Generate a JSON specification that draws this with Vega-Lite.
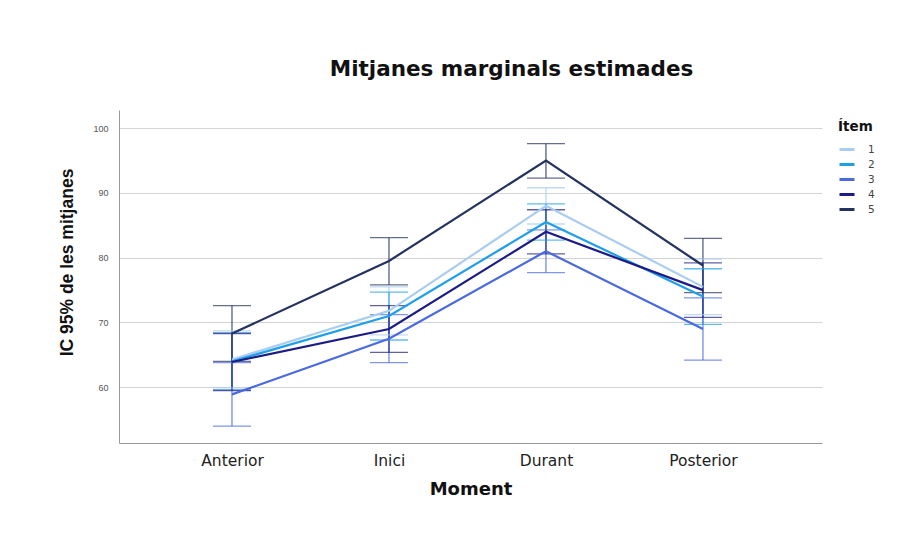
{
  "$schema": "https://vega.github.io/schema/vega-lite/v6.json",
  "autosize": {"type": "none"},
  "width": 703,
  "height": 333,
  "padding": {"left": 119, "top": 110, "right": 95, "bottom": 93},
  "background": "white",
  "config": {
    "font": "DejaVu Sans",
    "view": {"stroke": null},
    "axis": {"gridColor": "#d4d4d4", "domainColor": "#9a9a9a", "ticks": false}
  },
  "title": {
    "text": "Mitjanes marginals estimades",
    "fontSize": 21.5,
    "fontWeight": "bold",
    "font": "DejaVu Sans",
    "color": "#111111",
    "anchor": "middle",
    "dx": 41,
    "offset": 30
  },
  "data": {
    "values": [
      {"item": "1", "moment": "Anterior", "mean": 64.3, "lo": 59.9, "hi": 68.7},
      {"item": "1", "moment": "Inici", "mean": 71.8, "lo": 68.1, "hi": 75.5},
      {"item": "1", "moment": "Durant", "mean": 88.0, "lo": 85.2, "hi": 90.8},
      {"item": "1", "moment": "Posterior", "mean": 75.5, "lo": 71.2, "hi": 79.8},
      {"item": "2", "moment": "Anterior", "mean": 64.0, "lo": 59.6, "hi": 68.4},
      {"item": "2", "moment": "Inici", "mean": 71.0, "lo": 67.3, "hi": 74.7},
      {"item": "2", "moment": "Durant", "mean": 85.5, "lo": 82.7, "hi": 88.3},
      {"item": "2", "moment": "Posterior", "mean": 74.0, "lo": 69.7, "hi": 78.3},
      {"item": "3", "moment": "Anterior", "mean": 58.9, "lo": 54.0, "hi": 63.8},
      {"item": "3", "moment": "Inici", "mean": 67.5, "lo": 63.8, "hi": 71.2},
      {"item": "3", "moment": "Durant", "mean": 81.0, "lo": 77.7, "hi": 84.3},
      {"item": "3", "moment": "Posterior", "mean": 69.0, "lo": 64.2, "hi": 73.8},
      {"item": "4", "moment": "Anterior", "mean": 63.9, "lo": 59.5, "hi": 68.3},
      {"item": "4", "moment": "Inici", "mean": 69.0, "lo": 65.4, "hi": 72.6},
      {"item": "4", "moment": "Durant", "mean": 84.0, "lo": 80.6, "hi": 87.4},
      {"item": "4", "moment": "Posterior", "mean": 75.0, "lo": 70.8, "hi": 79.2},
      {"item": "5", "moment": "Anterior", "mean": 68.3, "lo": 64.0, "hi": 72.6},
      {"item": "5", "moment": "Inici", "mean": 79.5, "lo": 75.8, "hi": 83.1},
      {"item": "5", "moment": "Durant", "mean": 95.0, "lo": 92.3, "hi": 97.6},
      {"item": "5", "moment": "Posterior", "mean": 78.8, "lo": 74.6, "hi": 83.0}
    ]
  },
  "encoding": {
    "x": {
      "field": "moment",
      "type": "ordinal",
      "sort": ["Anterior", "Inici", "Durant", "Posterior"],
      "scale": {"type": "point", "padding": 0.739, "align": 0.487},
      "axis": {
        "title": "Moment",
        "titleFontSize": 18,
        "titleFontWeight": "bold",
        "titleColor": "#111111",
        "titlePadding": 12,
        "labelAngle": 0,
        "labelFont": "DejaVu Sans",
        "labelFontSize": 15.5,
        "labelColor": "#222222",
        "labelPadding": 10,
        "grid": false
      }
    },
    "color": {
      "field": "item",
      "type": "nominal",
      "scale": {
        "domain": ["1", "2", "3", "4", "5"],
        "range": ["#a9cdf0", "#1e9fe8", "#4b69e0", "#1c1c86", "#23325f"]
      },
      "legend": {
        "title": "Ítem",
        "orient": "none",
        "legendX": 719,
        "legendY": 10,
        "titleFont": "DejaVu Sans",
        "titleFontSize": 13.5,
        "titleFontWeight": "bold",
        "titleColor": "#111111",
        "titlePadding": 7,
        "labelFont": "DejaVu Sans",
        "labelFontSize": 10.5,
        "labelColor": "#444444",
        "symbolType": "stroke",
        "symbolStrokeWidth": 3,
        "symbolOpacity": 1,
        "symbolSize": 225,
        "rowPadding": 0,
        "labelOffset": 12
      }
    }
  },
  "layer": [
    {
      "mark": {"type": "rule", "strokeWidth": 1},
      "encoding": {
        "y": {"field": "lo", "type": "quantitative"},
        "y2": {"field": "hi"}
      }
    },
    {
      "mark": {"type": "tick", "orient": "horizontal", "size": 38, "thickness": 1.3},
      "encoding": {"y": {"field": "lo", "type": "quantitative"}}
    },
    {
      "mark": {"type": "tick", "orient": "horizontal", "size": 38, "thickness": 1.3},
      "encoding": {"y": {"field": "hi", "type": "quantitative"}}
    },
    {
      "mark": {"type": "line", "strokeWidth": 2.2},
      "encoding": {
        "y": {
          "field": "mean",
          "type": "quantitative",
          "scale": {"domain": [51.4, 102.8], "nice": false, "zero": false},
          "axis": {
            "title": "IC 95% de les mitjanes",
            "titleFont": "Liberation Sans",
            "titleFontSize": 17.5,
            "titleFontWeight": "bold",
            "titleColor": "#111111",
            "titleY": 152,
            "titlePadding": 16,
            "values": [60, 70, 80, 90, 100],
            "labelFont": "Liberation Sans",
            "labelFontSize": 9,
            "labelColor": "#555555",
            "labelPadding": 11,
            "grid": true
          }
        }
      }
    }
  ]
}
